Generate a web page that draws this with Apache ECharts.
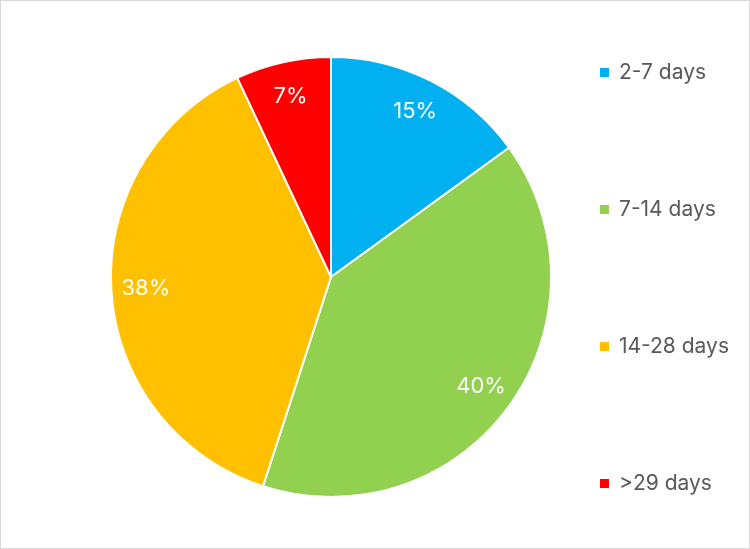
<!DOCTYPE html>
<html>
<head>
<meta charset="utf-8">
<script src="https://cdn.jsdelivr.net/npm/echarts@6/dist/echarts.min.js"></script>
<style>
  html, body { margin: 0; padding: 0; background: #fff; }
  #chart { width: 750px; height: 549px; box-sizing: border-box; border: 1px solid #d9d9d9; }
</style>
</head>
<body>
<div id="chart"></div>
<script>
// data
var categories = ['2-7 days', '7-14 days', '14-28 days', '>29 days'];
var shares = [15, 40, 38, 7];
var colors = ['#00B0F0', '#92D050', '#FFC000', '#FF0000'];

var pieData = categories.map(function (c, i) {
  return { name: c, value: shares[i], itemStyle: { color: colors[i] } };
});

var chart = echarts.init(document.getElementById('chart'));
chart.setOption({
  animation: false,
  legend: {
    orient: 'vertical',
    left: 592,
    top: 56,
    itemWidth: 11,
    itemHeight: 11,
    itemGap: 116,
    icon: 'rect',
    data: categories,
    textStyle: { fontSize: 21, lineHeight: 20, color: '#595959', fontFamily: 'Inter', padding: [0, 0, 0, 4] }
  },
  series: [
    {
      // the slices
      type: 'pie',
      center: [330, 276],
      radius: [0, 220],
      startAngle: 90,
      silent: true,
      label: { show: false },
      labelLine: { show: false },
      itemStyle: { borderColor: '#fff', borderWidth: 2 },
      data: pieData
    },
    {
      // transparent ring only to place the percent labels further out
      type: 'pie',
      center: [330, 276],
      radius: [145, 220],
      startAngle: 90,
      silent: true,
      itemStyle: { color: 'rgba(0,0,0,0)' },
      label: {
        show: true,
        position: 'inside',
        formatter: '{c}%',
        color: '#fff',
        fontSize: 22,
        fontFamily: 'Inter'
      },
      labelLine: { show: false },
      data: categories.map(function (c, i) { return { name: c, value: shares[i] }; })
    }
  ]
});
</script>
</body>
</html>
